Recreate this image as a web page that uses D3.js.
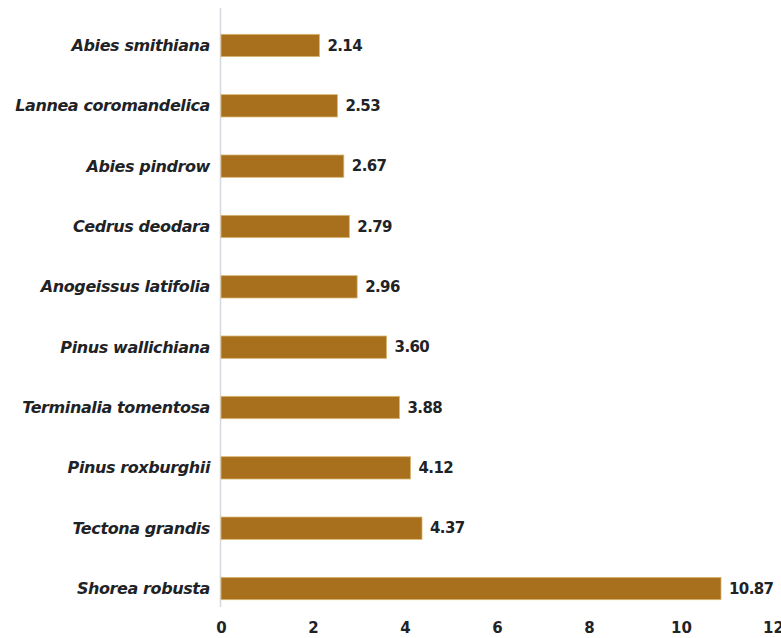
<!DOCTYPE html>
<html>
<head>
<meta charset="utf-8">
<script src="https://cdn.jsdelivr.net/npm/d3@7/dist/d3.min.js"></script>
<style>
  html, body { margin: 0; padding: 0; background: #ffffff; }
  svg { display: block; }
  text { font-family: "DejaVu Sans", "Noto Sans", sans-serif; }
</style>
</head>
<body>
<svg id="chart" width="781" height="638"></svg>
<script>
// Species (top to bottom) and their values
const species = [
  "Abies smithiana",
  "Lannea coromandelica",
  "Abies pindrow",
  "Cedrus deodara",
  "Anogeissus latifolia",
  "Pinus wallichiana",
  "Terminalia tomentosa",
  "Pinus roxburghii",
  "Tectona grandis",
  "Shorea robusta"
];
const values = [2.14, 2.53, 2.67, 2.79, 2.96, 3.60, 3.88, 4.12, 4.37, 10.87];
const valueLabels = ["2.14", "2.53", "2.67", "2.79", "2.96", "3.60", "3.88", "4.12", "4.37", "10.87"];
const xTicks = [0, 2, 4, 6, 8, 10, 12];

const svg = d3.select("#chart");
const plotLeft = 221, plotRight = 773, plotTop = 15, plotBottom = 619;

const x = d3.scaleLinear().domain([0, 12]).range([plotLeft, plotRight]);
const y = d3.scaleBand().domain(species).range([plotTop, plotBottom]).paddingInner(0.63).paddingOuter(0.32);

// vertical baseline
svg.append("line")
  .attr("x1", plotLeft - 0.5).attr("x2", plotLeft - 0.5)
  .attr("y1", 8).attr("y2", 607)
  .attr("stroke", "#d5d8dc").attr("stroke-width", 1.5);

// bars
svg.append("g").selectAll("rect")
  .data(values)
  .join("rect")
  .attr("x", x(0))
  .attr("y", (d, i) => y(species[i]))
  .attr("width", d => x(d) - x(0))
  .attr("height", y.bandwidth())
  .attr("fill", "#a86f1c")
  .attr("stroke", "#d9b773")
  .attr("stroke-width", 0.8);

// value labels
svg.append("g").selectAll("text")
  .data(values)
  .join("text")
  .attr("x", d => x(d) + 8)
  .attr("y", (d, i) => y(species[i]) + y.bandwidth() / 2)
  .attr("dy", "0.35em")
  .attr("font-size", 15)
  .attr("font-weight", "bold")
  .attr("fill", "#1f2326")
  .attr("letter-spacing", "-0.6")
  .text((d, i) => valueLabels[i]);

// category axis labels
svg.append("g").selectAll("text")
  .data(species)
  .join("text")
  .attr("x", plotLeft - 11)
  .attr("y", d => y(d) + y.bandwidth() / 2)
  .attr("dy", "0.35em")
  .attr("text-anchor", "end")
  .attr("font-size", 16)
  .attr("font-weight", "bold")
  .attr("font-style", "italic")
  .attr("fill", "#1f2326")
  .attr("letter-spacing", "-0.4")
  .text(d => d);

// x axis tick labels
const xAxis = d3.axisBottom(x).tickValues(xTicks).tickSize(0).tickPadding(0).tickFormat(d3.format("d"));
const gx = svg.append("g").attr("transform", "translate(0,622)").call(xAxis);
gx.select(".domain").remove();
gx.selectAll("text")
  .attr("font-size", 15)
  .attr("font-weight", "bold")
  .attr("fill", "#1f2326")
  .attr("font-family", "'DejaVu Sans', sans-serif");
</script>
</body>
</html>
